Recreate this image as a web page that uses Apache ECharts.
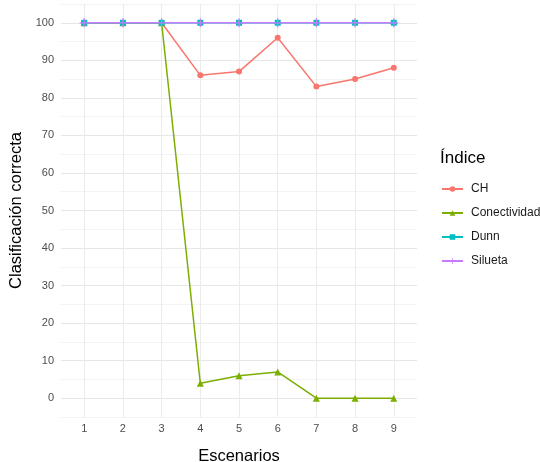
<!DOCTYPE html>
<html>
<head>
<meta charset="utf-8">
<script src="https://cdn.jsdelivr.net/npm/echarts@6/dist/echarts.min.js"></script>
<style>
html,body{margin:0;padding:0;background:#fff;}
#chart{width:540px;height:462px;}
</style>
</head>
<body>
<div id="chart"></div>
<script>
const scenarios = [1, 2, 3, 4, 5, 6, 7, 8, 9];
const chValues = [100, 100, 100, 86, 87, 96, 83, 85, 88];
const conectividadValues = [100, 100, 100, 4, 6, 7, 0, 0, 0];
const dunnValues = [100, 100, 100, 100, 100, 100, 100, 100, 100];
const siluetaValues = [100, 100, 100, 100, 100, 100, 100, 100, 100];
const seriesNames = ['CH', 'Conectividad', 'Dunn', 'Silueta'];

const font = '"Liberation Sans", Arial, sans-serif';
const plusPath = 'path://M4.3,0H5.7V4.3H10V5.7H5.7V10H4.3V5.7H0V4.3H4.3Z';

function pairs(vals) { return scenarios.map((s, i) => [s, vals[i]]); }

const chart = echarts.init(document.getElementById('chart'), null, {renderer: 'canvas', width: 540, height: 462});
const xSplitColors = ['rgba(0,0,0,0)'].concat(scenarios.map(() => '#ebebeb')).concat(['rgba(0,0,0,0)']);

const mk = (name, vals, color, symbol, size) => ({
  name: name,
  type: 'line',
  data: pairs(vals),
  symbol: symbol,
  symbolSize: size,
  showSymbol: true,
  lineStyle: {color: color, width: 1.5},
  itemStyle: {color: color},
  emphasis: {disabled: true},
  animation: false
});

chart.setOption({
  animation: false,
  backgroundColor: '#ffffff',
  grid: {left: 61, width: 356, top: 4, height: 413, containLabel: false, outerBoundsMode: 'none'},
  title: {
    text: 'Índice', left: 435, top: 145,
    textStyle: {fontFamily: font, fontSize: 17, fontWeight: 'normal', color: '#000'}
  },
  legend: {
    data: seriesNames,
    orient: 'vertical',
    left: 436, top: 178,
    itemWidth: 21, itemHeight: 7, itemGap: 12,
    textStyle: {fontFamily: font, fontSize: 12, color: '#1a1a1a', padding: [0, 0, 0, 3]}
  },
  xAxis: {
    type: 'value',
    min: 0.4, max: 9.6,
    minInterval: 1, maxInterval: 1,
    name: 'Escenarios',
    nameLocation: 'middle',
    nameGap: 31,
    nameTextStyle: {fontFamily: font, fontSize: 16.5, color: '#000'},
    axisLine: {show: false},
    axisTick: {show: false},
    axisLabel: {
      fontFamily: font, fontSize: 11, color: '#4d4d4d', margin: 6,
      formatter: v => (Math.abs(v - Math.round(v)) < 1e-6 ? String(Math.round(v)) : ''),
      showMinLabel: false, showMaxLabel: false
    },
    splitLine: {show: true, lineStyle: {color: xSplitColors, width: 1}}
  },
  yAxis: {
    type: 'value',
    min: -5, max: 105,
    minInterval: 5, maxInterval: 5,
    name: 'Clasificación correcta',
    nameLocation: 'middle',
    nameGap: 35,
    nameTextStyle: {fontFamily: font, fontSize: 16.5, color: '#000'},
    axisLine: {show: false},
    axisTick: {show: false},
    axisLabel: {
      fontFamily: font, fontSize: 11, color: '#4d4d4d', margin: 7,
      formatter: v => (Math.round(v) % 10 === 0 ? String(Math.round(v)) : '')
    },
    splitLine: {show: true, lineStyle: {color: ['#f3f3f3', '#e6e6e6'], width: 1}}
  },
  series: [
    mk('CH', chValues, '#F8766D', 'circle', 6),
    mk('Conectividad', conectividadValues, '#7CAE00', 'triangle', 7),
    mk('Dunn', dunnValues, '#00BFC4', 'rect', 6),
    mk('Silueta', siluetaValues, '#C77CFF', plusPath, 9)
  ]
});
</script>
</body>
</html>
